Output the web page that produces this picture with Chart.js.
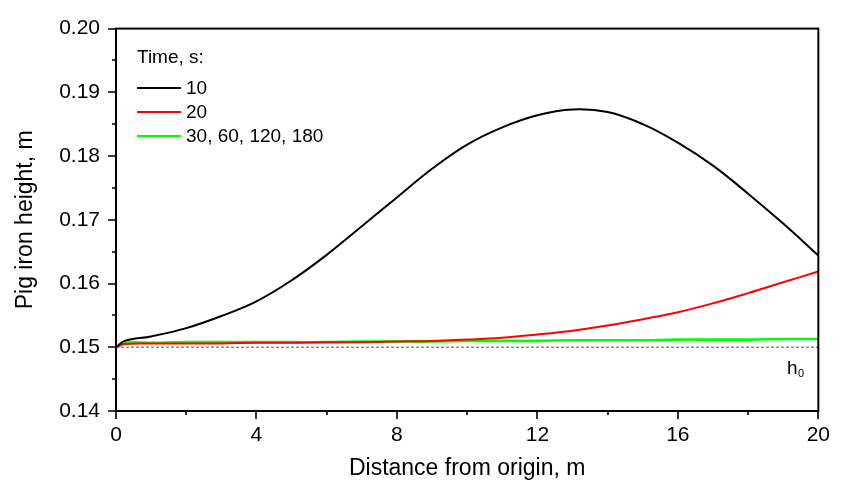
<!DOCTYPE html>
<html>
<head>
<meta charset="utf-8">
<title>Pig iron height</title>
<script src="https://cdn.jsdelivr.net/npm/chart.js@4.4.1/dist/chart.umd.min.js"></script>
<style>
  html, body { margin: 0; padding: 0; background: #fff; }
  #wrap { width: 842px; height: 488px; }
</style>
</head>
<body>
<div id="wrap"><canvas id="chart" width="842" height="488"></canvas></div>
<script>
// ── data ──
const distance = [0, 0.25, 1, 2, 3, 4, 5, 6, 7, 8, 9, 10, 11, 12, 13, 14, 15, 16, 17, 18, 19, 20];
const h10s   = [0.1500, 0.1510, 0.1517, 0.1530, 0.1549, 0.1572, 0.1605, 0.1645, 0.1690, 0.1735, 0.1780,
                0.1818, 0.1845, 0.1864, 0.1873, 0.1869, 0.1850, 0.1821, 0.1785, 0.1741, 0.1694, 0.1644];
const h20s   = [0.1500, 0.1505, 0.1506, 0.1506, 0.1506, 0.1507, 0.1507, 0.1508, 0.1508, 0.1509, 0.1510,
                0.1512, 0.1515, 0.1520, 0.1526, 0.1534, 0.1544, 0.1555, 0.1569, 0.1585, 0.1602, 0.1619];
const h30s   = [0.1500, 0.1507, 0.1507, 0.1508, 0.1508, 0.1508, 0.1508, 0.1508, 0.1509, 0.1509, 0.1509,
                0.1510, 0.1510, 0.1510, 0.1511, 0.1511, 0.1511, 0.1512, 0.1512, 0.1512, 0.1513, 0.1513];
const seriesLabels = ["10", "20", "30, 60, 120, 180"];
const legendTitle = "Time, s:";
const H0 = 0.15;
const xTicks = [0, 4, 8, 12, 16, 20];
const yTicks = [0.14, 0.15, 0.16, 0.17, 0.18, 0.19, 0.20];

const FONT = "'Liberation Sans', Arial, sans-serif";

function pts(ys) { return distance.map((x, i) => ({ x, y: ys[i] })); }

// ── frame, minor/major ticks, legend and h0 label ──
const decor = {
  id: "decor",
  afterDatasetsDraw(chart) {
    const { ctx, chartArea: a, scales: { x, y } } = chart;
    ctx.save();
    ctx.strokeStyle = "#000";
    ctx.lineWidth = 2;
    ctx.strokeRect(a.left, a.top, a.right - a.left, a.bottom - a.top);

    ctx.lineWidth = 1.6;
    ctx.beginPath();
    for (let v = 0; v <= 20.001; v += 2) {
      const px = Math.round(x.getPixelForValue(v));
      const len = (Math.round(v) % 4 === 0) ? 8 : 4;
      ctx.moveTo(px, a.bottom); ctx.lineTo(px, a.bottom + len);
    }
    for (let i = 0; i <= 12; i++) {
      const py = Math.round(y.getPixelForValue(0.14 + i * 0.005));
      const len = (i % 2 === 0) ? 8 : 4;
      ctx.moveTo(a.left, py); ctx.lineTo(a.left - len, py);
    }
    ctx.stroke();

    // legend
    const lx = 137, ly = 58;
    ctx.fillStyle = "#000";
    ctx.font = "19px " + FONT;
    ctx.textBaseline = "middle";
    ctx.textAlign = "left";
    ctx.fillText(legendTitle, lx, ly);
    chart.data.datasets.slice(0, 3).forEach((ds, i) => {
      const yy = 88 + i * 24;
      ctx.strokeStyle = ds.borderColor;
      ctx.lineWidth = 2;
      ctx.beginPath(); ctx.moveTo(lx, yy); ctx.lineTo(lx + 44, yy); ctx.stroke();
      ctx.fillText(ds.label, lx + 49, yy + 1);
    });

    // h0 label
    const hx = 787, hy = y.getPixelForValue(H0) + 21;
    ctx.font = "19px " + FONT;
    ctx.fillText("h", hx, hy);
    ctx.font = "11px " + FONT;
    ctx.fillText("0", hx + ctx.measureText("h").width + 5, hy + 6);
    ctx.restore();
  }
};

new Chart(document.getElementById("chart"), {
  type: "line",
  data: {
    datasets: [
      { label: seriesLabels[0], data: pts(h10s), borderColor: "#000000", borderWidth: 2 },
      { label: seriesLabels[1], data: pts(h20s), borderColor: "#ff0000", borderWidth: 2 },
      { label: seriesLabels[2], data: pts(h30s), borderColor: "#00ff00", borderWidth: 2.6 },
      { label: "h0", data: [{ x: 0, y: H0 }, { x: 20, y: H0 }], borderColor: "#8a8a8a",
        borderWidth: 1.3, borderDash: [3, 2], tension: 0 }
    ]
  },
  options: {
    responsive: false,
    animation: false,
    events: [],
    layout: { padding: { top: 19, right: 23, left: 0, bottom: 0 } },
    elements: {
      point: { radius: 0 },
      line: { tension: 0.4, fill: false, capBezierPoints: true }
    },
    plugins: { legend: { display: false }, tooltip: { enabled: false } },
    scales: {
      x: {
        type: "linear", min: 0, max: 20,
        afterFit(s) { s.height = 77; },
        afterBuildTicks(s) { s.ticks = xTicks.map(v => ({ value: v })); },
        grid: { drawOnChartArea: false, drawTicks: false },
        border: { display: false },
        ticks: { color: "#000", font: { family: FONT, size: 21 }, padding: 12, maxRotation: 0 },
        title: { display: true, text: "Distance from origin, m", color: "#000",
                 font: { family: FONT, size: 23 }, padding: { top: 0, bottom: 6 } }
      },
      y: {
        type: "linear", min: 0.14, max: 0.20,
        afterFit(s) { s.width = 116; },
        afterBuildTicks(s) { s.ticks = yTicks.map(v => ({ value: v })); },
        grid: { drawOnChartArea: false, drawTicks: false },
        border: { display: false },
        ticks: { color: "#000", font: { family: FONT, size: 21 }, padding: 16,
                 callback: v => v.toFixed(2) },
        title: { display: true, text: "Pig iron height, m", color: "#000",
                 font: { family: FONT, size: 23 }, padding: { top: 12, bottom: 0 } }
      }
    }
  },
  plugins: [decor]
});
</script>
</body>
</html>
